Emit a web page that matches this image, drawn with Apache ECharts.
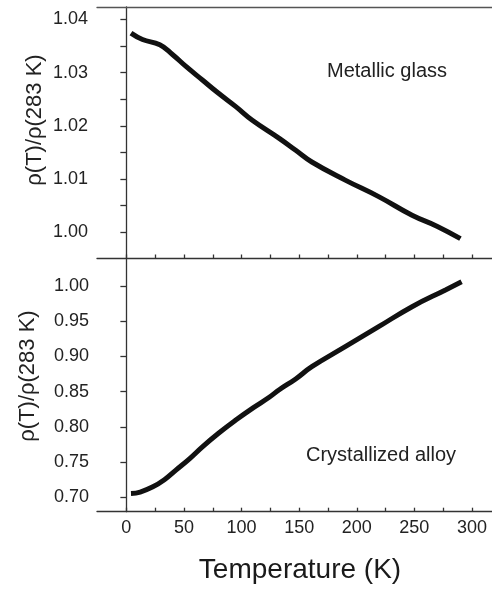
<!DOCTYPE html>
<html>
<head>
<meta charset="utf-8">
<script src="https://cdn.jsdelivr.net/npm/echarts@6/dist/echarts.min.js"></script>
<style>
  html, body { margin: 0; padding: 0; background: #fff; }
  #chart { width: 492px; height: 590px; }
</style>
</head>
<body>
<div id="chart"></div>
<script>
// metallic glass, upper panel
var glassT = [4, 14, 29, 40, 52, 66, 80, 95, 109, 133, 147, 161, 190, 219, 248, 270, 290];
var glassRho = [1.0374, 1.0362, 1.0352, 1.0334, 1.0311, 1.0286, 1.0261, 1.0236, 1.0211, 1.0176, 1.0154, 1.0132, 1.0098, 1.0067, 1.0032, 1.0011, 0.9988];

// crystallized alloy, lower panel
var alloyT = [4, 12, 23, 33, 43, 55, 66, 80, 95, 110, 124, 133, 147, 161, 190, 219, 248, 277, 291];
var alloyRho = [0.7055, 0.7075, 0.7149, 0.7250, 0.7386, 0.7550, 0.7717, 0.7910, 0.8097, 0.8270, 0.8420, 0.8530, 0.8680, 0.8854, 0.9138, 0.9422, 0.9706, 0.9943, 1.0060];

// tick positions / labels
var xTicks = [0, 25, 50, 75, 100, 125, 150, 175, 200, 225, 250, 275, 300];
var xLabels = [0, 50, 100, 150, 200, 250, 300];
var glassTicks = [0.995, 1.00, 1.005, 1.01, 1.015, 1.02, 1.025, 1.03, 1.035, 1.04];
var glassLabels = [1.00, 1.01, 1.02, 1.03, 1.04];
var alloyTicks = [0.70, 0.75, 0.80, 0.85, 0.90, 0.95, 1.00];

var ink = '#222';
var lineStyle = { color: '#333', width: 1.3 };
var tickFont = { color: ink, fontSize: 18, fontFamily: 'Liberation Sans' };

function pairs(xs, ys) {
    return xs.map(function (x, i) { return [x, ys[i]]; });
}

var myChart = echarts.init(document.getElementById('chart'));
var option = {
    animation: false,
    grid: [
        { left: 97, right: 0, top: 7, height: 251.5 },
        { left: 97, right: 0, top: 258.5, height: 253.2 }
    ],
    xAxis: [
        {
            gridIndex: 0, type: 'value', min: -25.5, max: 317.4, position: 'bottom',
            axisLine: { show: true, lineStyle: lineStyle },
            axisTick: { show: true, inside: true, length: 4, customValues: xTicks, lineStyle: lineStyle },
            axisLabel: { show: false },
            splitLine: { show: false }
        },
        {
            gridIndex: 0, type: 'value', min: -25.5, max: 317.4, position: 'top',
            axisLine: { show: true, lineStyle: { color: '#555', width: 1.3 } },
            axisTick: { show: false }, axisLabel: { show: false }, splitLine: { show: false }
        },
        {
            gridIndex: 1, type: 'value', min: -25.5, max: 317.4, position: 'bottom',
            axisLine: { show: true, lineStyle: lineStyle },
            axisTick: { show: true, inside: true, length: 4, customValues: xTicks, lineStyle: lineStyle },
            axisLabel: Object.assign({ margin: 7, customValues: xLabels }, tickFont),
            splitLine: { show: false }
        }
    ],
    yAxis: [
        {
            gridIndex: 0, type: 'value', min: 0.99508, max: 1.04231,
            axisLine: { show: true, lineStyle: lineStyle },
            axisTick: { show: true, inside: false, length: 6, customValues: glassTicks, lineStyle: lineStyle },
            axisLabel: Object.assign({
                margin: 9, customValues: glassLabels,
                formatter: function (v) { return v.toFixed(2); }
            }, tickFont),
            splitLine: { show: false }
        },
        {
            gridIndex: 1, type: 'value', min: 0.6796, max: 1.039,
            axisLine: { show: true, lineStyle: lineStyle },
            axisTick: { show: true, inside: false, length: 6, customValues: alloyTicks, lineStyle: lineStyle },
            axisLabel: Object.assign({
                margin: 8, customValues: alloyTicks,
                formatter: function (v) { return v.toFixed(2); }
            }, tickFont),
            splitLine: { show: false }
        }
    ],
    series: [
        {
            name: 'Metallic glass', type: 'line', xAxisIndex: 0, yAxisIndex: 0,
            data: pairs(glassT, glassRho), smooth: 0.45, showSymbol: false,
            lineStyle: { color: '#111', width: 5 }
        },
        {
            name: 'Crystallized alloy', type: 'line', xAxisIndex: 2, yAxisIndex: 1,
            data: pairs(alloyT, alloyRho), smooth: 0.45, showSymbol: false,
            lineStyle: { color: '#111', width: 5 }
        }
    ],
    graphic: [
        {
            type: 'text', x: 35, y: 120, rotation: Math.PI / 2,
            style: { text: 'ρ(T)/ρ(283 K)', fill: ink, font: '22px "Liberation Sans"', textAlign: 'center', textVerticalAlign: 'middle' }
        },
        {
            type: 'text', x: 28, y: 376, rotation: Math.PI / 2,
            style: { text: 'ρ(T)/ρ(283 K)', fill: ink, font: '22px "Liberation Sans"', textAlign: 'center', textVerticalAlign: 'middle' }
        },
        {
            type: 'text', x: 387, y: 71,
            style: { text: 'Metallic glass', fill: ink, font: '20px "Liberation Sans"', textAlign: 'center', textVerticalAlign: 'middle' }
        },
        {
            type: 'text', x: 381, y: 455,
            style: { text: 'Crystallized alloy', fill: ink, font: '20px "Liberation Sans"', textAlign: 'center', textVerticalAlign: 'middle' }
        },
        {
            type: 'text', x: 300, y: 570,
            style: { text: 'Temperature (K)', fill: '#1a1a1a', font: '28px "Liberation Sans"', textAlign: 'center', textVerticalAlign: 'middle' }
        }
    ]
};
myChart.setOption(option);
</script>
</body>
</html>
